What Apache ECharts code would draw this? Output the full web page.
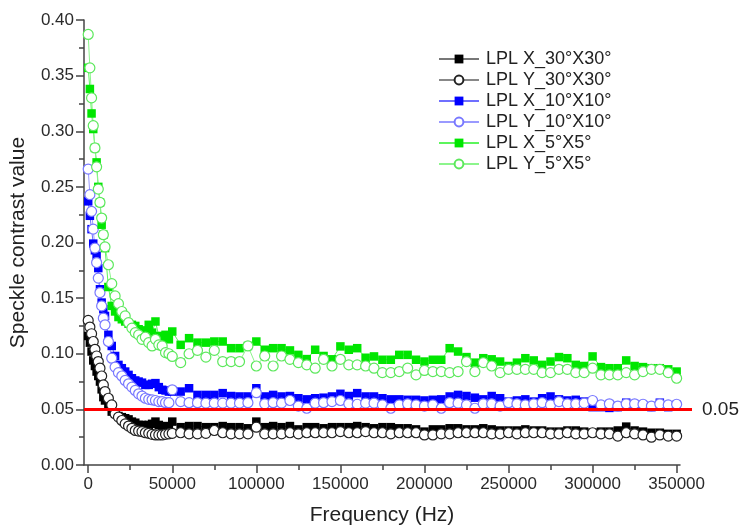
<!DOCTYPE html>
<html>
<head>
<meta charset="utf-8">
<script src="https://cdn.jsdelivr.net/npm/echarts@6/dist/echarts.min.js"></script>
<style>
  html, body { margin: 0; padding: 0; background: #fff; }
  #chart { width: 740px; height: 529px; }
</style>
</head>
<body>
<div id="chart"></div>
<script>
// frequency points (Hz)
var freq = [0,1000,2000,3000,4000,5000,6000,7000,8000,9000,10000,
  12000,14000,16000,18000,20000,22000,24000,26000,28000,30000,32000,34000,36000,38000,40000,42000,44000,46000,48000,
  50000,55000,60000,65000,70000,75000,80000,85000,90000,95000,
  100000,105000,110000,115000,120000,125000,130000,135000,140000,145000,
  150000,155000,160000,165000,170000,175000,180000,185000,190000,195000,
  200000,205000,210000,215000,220000,225000,230000,235000,240000,245000,
  250000,255000,260000,265000,270000,275000,280000,285000,290000,295000,
  300000,305000,310000,315000,320000,325000,330000,335000,340000,345000,
  350000];

var lplX30 = [.116,.110,.102,.094,.089,.084,.080,.075,.068,.061,.058,
  .053,.048,.046,.044,.043,.042,.041,.039,.038,.036,.036,.035,.036,.037,.039,.036,.0345,.035,.034,
  .039,.034,.035,.035,.034,.034,.035,.034,.034,.033,
  .039,.034,.035,.034,.035,.032,.034,.034,.033,.034,
  .034,.034,.035,.034,.033,.034,.034,.033,.033,.032,
  .030,.032,.032,.033,.033,.032,.032,.033,.032,.031,
  .031,.031,.032,.031,.031,.030,.030,.031,.031,.030,
  .029,.030,.030,.031,.0345,.031,.030,.029,.029,.028,
  .028];

var lplY30 = [.130,.124,.118,.111,.104,.098,.093,.087,.080,.072,.066,
  .060,.054,.046,.043,.040,.037,.035,.033,.031,.0305,.030,.029,.0285,.0275,.027,.027,.027,.0276,.028,
  .0285,.029,.028,.028,.0285,.031,.029,.028,.028,.028,
  .034,.028,.028,.028,.029,.028,.029,.029,.029,.029,
  .030,.029,.029,.030,.029,.029,.028,.029,.029,.029,
  .027,.027,.028,.028,.029,.029,.029,.029,.028,.028,
  .029,.028,.029,.029,.029,.028,.028,.029,.028,.028,
  .029,.028,.028,.026,.029,.028,.027,.025,.027,.026,
  .026];

var lplX10 = [.237,.224,.212,.199,.193,.188,.177,.158,.146,.140,.134,
  .117,.107,.098,.090,.087,.084,.081,.078,.076,.075,.074,.072,.072,.073,.0736,.070,.0676,.067,.066,
  .066,.066,.069,.063,.063,.063,.0646,.062,.0616,.0616,
  .069,.0616,.063,.0616,.062,.060,.059,.060,.0605,.0616,
  .064,.062,.0646,.0616,.0616,.060,.059,.059,.0586,.0586,
  .058,.0586,.059,.0616,.063,.062,.0605,.059,.062,.060,
  .057,.058,.059,.057,.060,.0616,.059,.058,.0586,.057,
  .052,.052,.0513,.052,.056,.054,.0535,.052,.056,.052,
  .054];

var lplY10 = [.266,.243,.228,.212,.195,.182,.168,.155,.143,.132,.126,
  .111,.096,.088,.083,.080,.076,.073,.070,.067,.064,.062,.060,.059,.0586,.058,.057,.057,.056,.056,
  .0676,.057,.056,.056,.0556,.0556,.0556,.0556,.0556,.056,
  .065,.055,.056,.0556,.058,.053,.051,.0556,.056,.057,
  .058,.055,.0546,.0556,.0556,.054,.051,.054,.055,.054,
  .053,.054,.051,.056,.0556,.054,.051,.055,.055,.053,
  .056,.055,.054,.055,.056,.054,.057,.055,.055,.0556,
  .058,.054,.055,.053,.055,.055,.0546,.053,.055,.054,
  .0546];

var lplX5 = [.357,.338,.316,.302,.285,.272,.250,.236,.216,.207,.195,
  .160,.143,.138,.133,.131,.129,.127,.126,.125,.122,.121,.120,.126,.119,.129,.116,.111,.117,.113,
  .120,.108,.114,.110,.110,.111,.111,.105,.105,.107,
  .111,.1036,.105,.105,.103,.099,.0952,.1036,.098,.095,
  .1066,.1036,.105,.0964,.0976,.0946,.0946,.099,.099,.0946,
  .093,.0946,.0946,.105,.102,.097,.092,.096,.095,.093,
  .089,.092,.096,.094,.090,.093,.097,.096,.090,.089,
  .0976,.088,.087,.087,.094,.089,.088,.087,.087,.086,
  .084];

var lplY5 = [.387,.357,.330,.305,.285,.268,.248,.236,.222,.207,.196,
  .180,.163,.152,.145,.138,.134,.128,.123,.119,.117,.113,.115,.110,.107,.113,.108,.107,.101,.100,
  .0976,.092,.100,.103,.097,.103,.093,.093,.093,.107,
  .089,.098,.089,.098,.095,.092,.090,.087,.095,.089,
  .095,.090,.090,.089,.087,.083,.083,.084,.087,.081,
  .085,.084,.084,.083,.084,.093,.084,.092,.089,.083,
  .086,.086,.086,.086,.083,.083,.086,.086,.083,.083,
  .087,.081,.081,.081,.083,.081,.084,.086,.086,.083,
  .078];

// threshold line (on its own hidden axis pair, a little wider than the plot)
var refLevel = 0.05;
var refSpan = [0, 1];

var seriesNames = ['LPL X_30°X30°','LPL Y_30°X30°','LPL X_10°X10°','LPL Y_10°X10°','LPL X_5°X5°','LPL Y_5°X5°'];
var xTicks = [0,50000,100000,150000,200000,250000,300000,350000];

function pairs(ys) {
  var out = [];
  for (var i = 0; i < freq.length; i++) out.push([freq[i], ys[i]]);
  return out;
}

// filled square series
function sq(name, ys, color, lineColor) {
  return {
    name: name, type: 'line', data: pairs(ys),
    symbol: 'rect', symbolSize: 8.5, showAllSymbol: true,
    itemStyle: { color: color, borderColor: color, borderWidth: 0 },
    lineStyle: { color: lineColor, width: 1 },
    emphasis: { disabled: true }
  };
}
// hollow circle series
function circ(name, ys, color, lineColor) {
  return {
    name: name, type: 'line', data: pairs(ys),
    symbol: 'circle', symbolSize: 10, showAllSymbol: true,
    itemStyle: { color: '#fff', borderColor: color, borderWidth: 1.2 },
    lineStyle: { color: lineColor, width: 1 },
    emphasis: { disabled: true }
  };
}

var myChart = echarts.init(document.getElementById('chart'));
myChart.setOption({
  animation: false,
  backgroundColor: '#fff',
  grid: [
    { left: 84, right: 60, top: 20, bottom: 64, outerBoundsMode: 'none' },
    { left: 84, right: 48, top: 20, bottom: 64, outerBoundsMode: 'none' }
  ],
  legend: {
    data: seriesNames,
    orient: 'vertical',
    left: 433, top: 45,
    itemWidth: 40, itemHeight: 11, itemGap: 3,
    textStyle: { fontFamily: 'Liberation Sans, Arial', fontSize: 18, color: '#222', lineHeight: 18, padding: [0, 0, 0, 2] }
  },
  xAxis: [{
    type: 'value', gridIndex: 0, min: -2500, max: 352000, splitNumber: 7,
    name: 'Frequency (Hz)', nameLocation: 'middle', nameGap: 40,
    nameTextStyle: { fontFamily: 'Liberation Sans, Arial', fontSize: 21, color: '#222' },
    axisLine: { show: true, onZero: false, lineStyle: { color: '#444', width: 1.5 } },
    axisTick: { show: true, length: 8, customValues: xTicks, lineStyle: { color: '#444', width: 1.5 } },
    minorTick: { show: true, splitNumber: 2, length: 5, lineStyle: { color: '#444', width: 1.5 } },
    axisLabel: {
      customValues: xTicks, margin: 11,
      fontFamily: 'Liberation Sans, Arial', fontSize: 17, color: '#2a2a2a',
      formatter: function (v) { return String(v); }
    },
    splitLine: { show: false }
  }, {
    type: 'value', gridIndex: 1, min: 0, max: 1, show: false
  }],
  yAxis: [{
    type: 'value', gridIndex: 0, min: 0, max: 0.4, interval: 0.05,
    name: 'Speckle contrast value', nameLocation: 'middle', nameGap: 55,
    nameTextStyle: { fontFamily: 'Liberation Sans, Arial', fontSize: 21, color: '#222' },
    axisLine: { show: true, onZero: false, lineStyle: { color: '#444', width: 1.5 } },
    axisTick: { show: true, length: 8, lineStyle: { color: '#444', width: 1.5 } },
    minorTick: { show: true, splitNumber: 2, length: 5, lineStyle: { color: '#444', width: 1.5 } },
    axisLabel: {
      margin: 10,
      fontFamily: 'Liberation Sans, Arial', fontSize: 17, color: '#2a2a2a',
      formatter: function (v) { return v.toFixed(2); }
    },
    splitLine: { show: false }
  }, {
    type: 'value', gridIndex: 1, min: 0, max: 0.4, show: false
  }],
  series: [
    sq(seriesNames[0], lplX30, '#000000', '#777777'),
    circ(seriesNames[1], lplY30, '#222222', '#888888'),
    sq(seriesNames[2], lplX10, '#0000ff', '#6f6fff'),
    circ(seriesNames[3], lplY10, '#7878ff', '#9a9aff'),
    sq(seriesNames[4], lplX5, '#00e600', '#5cf55c'),
    circ(seriesNames[5], lplY5, '#5ce85c', '#8cf58c'),
    {
      name: 'ref', type: 'line', xAxisIndex: 1, yAxisIndex: 1, z: 5,
      data: [[refSpan[0], refLevel], [refSpan[1], refLevel]],
      symbol: 'none',
      lineStyle: { color: '#ff0000', width: 3 },
      emphasis: { disabled: true },
      endLabel: {
        show: true, distance: 10, formatter: '0.05',
        fontFamily: 'Liberation Sans, Arial', fontSize: 19, color: '#222'
      }
    }
  ]
});
</script>
</body>
</html>
